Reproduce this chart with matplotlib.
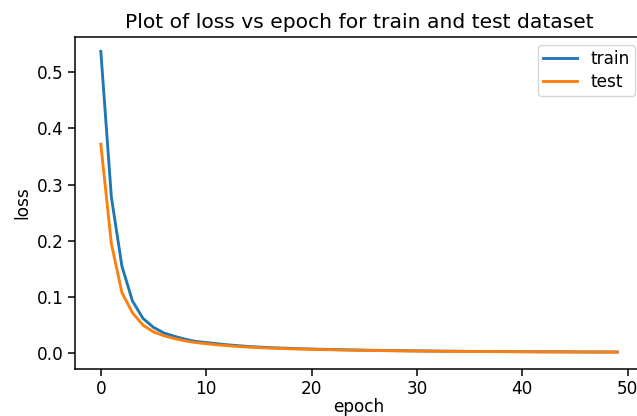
import numpy as np
import matplotlib
matplotlib.use('Agg')
import matplotlib.pyplot as plt

# loss values
train_loss = [0.537, 0.278, 0.155, 0.093, 0.062, 0.046, 0.036, 0.030, 0.025, 0.021,
              0.019, 0.017, 0.015, 0.0135, 0.012, 0.011, 0.010, 0.0093, 0.0086, 0.008,
              0.0075, 0.007, 0.0066, 0.0062, 0.0058, 0.0055, 0.0052, 0.0049, 0.0046, 0.0044,
              0.0042, 0.004, 0.0038, 0.0036, 0.0035, 0.0033, 0.0032, 0.0031, 0.003, 0.0029,
              0.0028, 0.0027, 0.0026, 0.0025, 0.0025, 0.0024, 0.0023, 0.0023, 0.0022, 0.0022]
test_loss = [0.372, 0.195, 0.108, 0.072, 0.050, 0.038, 0.031, 0.026, 0.022, 0.019,
             0.017, 0.015, 0.0135, 0.012, 0.011, 0.010, 0.0092, 0.0085, 0.0079, 0.0074,
             0.0069, 0.0065, 0.0061, 0.0057, 0.0054, 0.0051, 0.0048, 0.0046, 0.0043, 0.0041,
             0.0039, 0.0037, 0.0036, 0.0034, 0.0033, 0.0031, 0.003, 0.0029, 0.0028, 0.0027,
             0.0026, 0.0025, 0.0024, 0.0024, 0.0023, 0.0022, 0.0022, 0.0021, 0.0021, 0.002]
epochs = np.arange(len(train_loss))

# reference looks like a default plot blown up ~1.38x
s = 1.38
plt.rcParams['font.size'] = 10 * s * 0.88
plt.rcParams['axes.linewidth'] = 0.8 * s
plt.rcParams['xtick.major.width'] = 0.8 * s
plt.rcParams['ytick.major.width'] = 0.8 * s
plt.rcParams['xtick.major.size'] = 3.5 * s
plt.rcParams['ytick.major.size'] = 3.5 * s

W, H = 637, 416
fig = plt.figure(figsize=(W / 100, H / 100), dpi=100)
# axes runs a little past the right edge (reference is cropped)
ax = fig.add_axes([75 / W, 47.3 / H, 568 / W, 332 / H])

ax.plot(epochs, train_loss, label='train', lw=1.5 * s)
ax.plot(epochs, test_loss, label='test', lw=1.5 * s)
ax.set_title('Plot of loss vs epoch for train and test dataset', fontsize=12 * s * 0.88)
ax.set_xlabel('epoch', labelpad=0)
ax.set_ylabel('loss')
ax.set_xlim(-2.45, 51.45)
ax.set_ylim(-0.0275, 0.563)
ax.legend(loc='upper right', labelspacing=0.3, borderpad=0.3)

fig.savefig('out.png', dpi=100)
